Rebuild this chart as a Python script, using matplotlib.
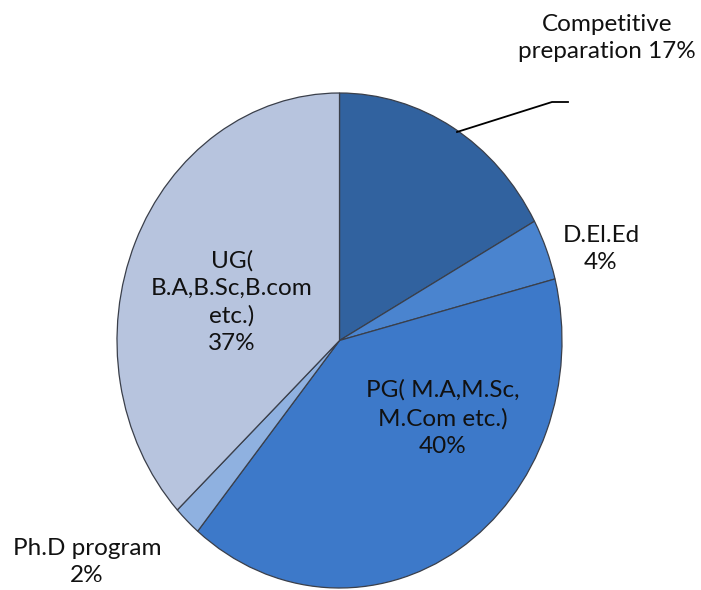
import matplotlib.pyplot as plt

# slice data (clockwise from 12 o'clock)
categories = ["Competitive preparation", "D.El.Ed", "PG( M.A,M.Sc, M.Com etc.)",
              "Ph.D program", "UG( B.A,B.Sc,B.com etc.)"]
shares = [17, 4, 40, 2, 37]
colors = ["#31629f", "#4a84cf", "#3d79c9", "#8fb1e0", "#b7c4de"]

# label texts as printed on the chart
label_texts = [
    "Competitive\npreparation 17%",
    "D.El.Ed\n4%",
    "PG( M.A,M.Sc,\nM.Com etc.)\n40%",
    "Ph.D program\n2%",
    "UG(\nB.A,B.Sc,B.com\netc.)\n37%",
]
# label centres in pixels (x from left, y from top)
label_pos = [(607, 38), (601, 249), (443, 418), (87, 562), (232, 302)]

W, H = 701, 590
fig = plt.figure(figsize=(W / 100, H / 100), dpi=100)
plt.rcParams['font.family'] = ['Lato', 'DejaVu Sans']

# the pie is drawn as an upright ellipse
x0, x1, y0, y1 = 117, 562, 93, 588
ax = fig.add_axes([x0 / W, 1 - y1 / H, (x1 - x0) / W, (y1 - y0) / H])
ax.pie(shares, colors=colors, startangle=90, counterclock=False,
       wedgeprops=dict(edgecolor="#3a3f4a", linewidth=0.9))
ax.set_aspect('auto')
ax.set_xlim(-1, 1)
ax.set_ylim(-1, 1)
ax.axis('off')

def px(x, y):
    return x / W, 1 - y / H

for txt, (lx, ly) in zip(label_texts, label_pos):
    fig.text(*px(lx, ly), txt, ha='center', va='center', fontsize=17.5,
             linespacing=1.38, color='#111111')

# leader line for the top slice
lx_, ly_ = zip(px(457, 132), px(552, 102), px(568, 102))
fig.add_artist(plt.Line2D(lx_, ly_, color='black', linewidth=1.3))

fig.savefig("out.png", dpi=100)
